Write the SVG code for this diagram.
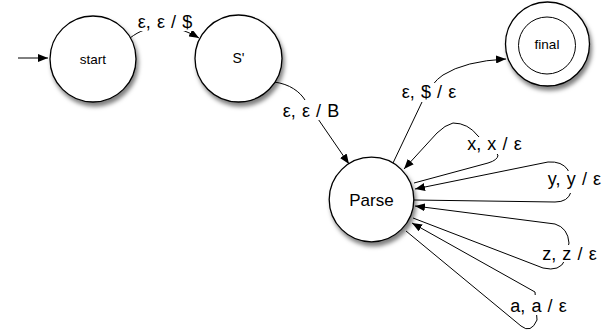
<svg xmlns="http://www.w3.org/2000/svg" width="605" height="332" viewBox="0 0 605 332">
  <defs>
    <filter id="shadow" x="-20%" y="-20%" width="150%" height="150%">
      <feDropShadow dx="2" dy="4" stdDeviation="2.2" flood-color="#000" flood-opacity="0.5"/>
    </filter>
    <marker id="arrow" viewBox="0 0 10 8" refX="10" refY="4" markerWidth="10" markerHeight="8" markerUnits="userSpaceOnUse" orient="auto">
      <path d="M0,0 L10,4 L0,8 Z" fill="#000"/>
    </marker>
    <style>
      .state { fill: #fff; stroke: #000; stroke-width: 1.3; }
      .ring { fill: none; stroke: #000; stroke-width: 1; }
      .name { font-family: "Liberation Sans", Arial, sans-serif; fill: #000; text-anchor: middle; }
      .edge { fill: none; stroke: #000; stroke-width: 1; }
      .label { font-family: "Liberation Sans", Arial, sans-serif; font-size: 18px; fill: #000; text-anchor: middle; word-spacing: 1.2px; }
      .mask { fill: #fff; stroke: none; }
    </style>
  </defs>

  <!-- transitions -->
  <g id="connectors">
    <path class="edge" d="M18,58 L48,58" marker-end="url(#arrow)"/>
    <path class="edge" d="M130,38 C148,24 172,22 199,38" marker-end="url(#arrow)"/>
    <path class="edge" d="M274,82 C290,84 300,92 305,100 L349,164" marker-end="url(#arrow)"/>
    <path class="edge" d="M393,163 L422,102 Q432,82 443,75 Q465,61 506,59" marker-end="url(#arrow)"/>
    <path class="edge" d="M414,183 L488,163 Q498,160 498,155 L478,136 Q468,123 453,123 Q445,125 437,133 L404,169" marker-end="url(#arrow)"/>
    <path class="edge" d="M414,200 L555,202 Q568,202 571,192 L568,170 Q562,161 548,162 L415,189" marker-end="url(#arrow)"/>
    <path class="edge" d="M413,218 L543,268 Q560,272 565,260 L569,243 Q568,228 555,224 L415,206" marker-end="url(#arrow)"/>
    <path class="edge" d="M406,231 L521,326 Q531,334 537,320 L535,292 L412,223" marker-end="url(#arrow)"/>

    <!-- labels sit on their lines -->
    <rect class="mask" x="134" y="12" width="62" height="19"/>
    <text class="label" x="165" y="28">ε, ε / $</text>
    <rect class="mask" x="280" y="100" width="62" height="20"/>
    <text class="label" x="311" y="117">ε, ε / B</text>
    <rect class="mask" x="400" y="83" width="58" height="19"/>
    <text class="label" x="429" y="98">ε, $ / ε</text>
    <rect class="mask" x="465" y="137" width="59" height="17"/>
    <text class="label" x="494.5" y="150">x, x / ε</text>
    <rect class="mask" x="546" y="171" width="59" height="22"/>
    <text class="label" x="574.5" y="185">y, y / ε</text>
    <rect class="mask" x="541" y="245" width="58" height="17"/>
    <text class="label" x="569.5" y="260">z, z / ε</text>
    <rect class="mask" x="510" y="295" width="58" height="20"/>
    <text class="label" x="538.5" y="312">a, a / ε</text>
  </g>

  <g id="start">
    <circle class="state" cx="93" cy="59" r="43" filter="url(#shadow)"/>
    <text class="name" x="93" y="64" font-size="13.5">start</text>
  </g>

  <g id="s-prime">
    <circle class="state" cx="238.5" cy="58.5" r="43.5" filter="url(#shadow)"/>
    <text class="name" x="238.5" y="63" font-size="14">S'</text>
  </g>

  <g id="parse">
    <circle class="state" cx="371.5" cy="199.5" r="42.3" filter="url(#shadow)"/>
    <text class="name" x="371.5" y="205.5" font-size="17">Parse</text>
  </g>

  <g id="final">
    <circle class="state" cx="547.5" cy="44" r="42" filter="url(#shadow)"/>
    <circle class="ring" cx="547" cy="45.5" r="28.5"/>
    <text class="name" x="547" y="49" font-size="13.5">final</text>
  </g>
</svg>
